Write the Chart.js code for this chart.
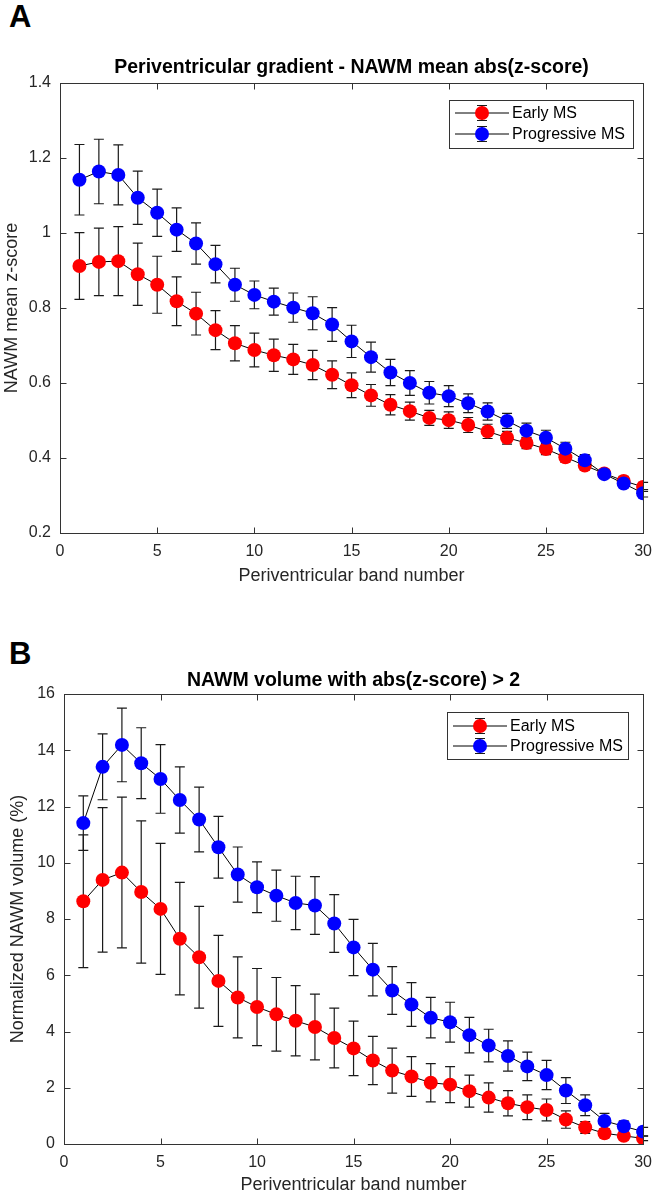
<!DOCTYPE html>
<html>
<head>
<meta charset="utf-8">
<script src="https://cdn.jsdelivr.net/npm/chart.js@4.4.0/dist/chart.umd.min.js"></script>
<style>
  html, body { margin: 0; padding: 0; background: #fff; }
  body { width: 661px; height: 1195px; position: relative; overflow: hidden; }
  .panel { position: absolute; left: 0; }
  .letter { position: absolute; left: 9px; font: bold 31px "Liberation Sans", Arial, sans-serif; line-height: 30px; color: #000; }
</style>
</head>
<body>
<div class="letter" style="top:2px">A</div>
<div class="letter" style="top:639px">B</div>
<div class="panel" style="top:0"><canvas id="chartA" width="661" height="600"></canvas></div>
<div class="panel" style="top:600px"><canvas id="chartB" width="661" height="595"></canvas></div>

<script>
// band numbers on the x axis
const bands = [1, 2, 3, 4, 5, 6, 7, 8, 9, 10, 11, 12, 13, 14, 15, 16, 17, 18, 19, 20, 21, 22, 23, 24, 25, 26, 27, 28, 29, 30];
const xTicks = [0, 5, 10, 15, 20, 25, 30];
const yTicksA = [0.2, 0.4, 0.6, 0.8, 1, 1.2, 1.4];
const yTicksB = [0, 2, 4, 6, 8, 10, 12, 14, 16];

// A: mean abs(z-score), mean and error
const earlyMeanA = [0.912, 0.923, 0.925, 0.890, 0.862, 0.818, 0.785, 0.741, 0.706, 0.688, 0.674, 0.663, 0.648, 0.622, 0.594, 0.567, 0.542, 0.525, 0.507, 0.501, 0.488, 0.471, 0.454, 0.440, 0.424, 0.402, 0.380, 0.359, 0.339, 0.323];
const earlyErrA = [0.089, 0.090, 0.092, 0.083, 0.076, 0.065, 0.057, 0.052, 0.047, 0.045, 0.043, 0.040, 0.039, 0.037, 0.033, 0.029, 0.027, 0.024, 0.020, 0.022, 0.020, 0.019, 0.017, 0.015, 0.015, 0.013, 0.012, 0.010, 0.012, 0.012];
const progMeanA = [1.142, 1.164, 1.155, 1.094, 1.054, 1.009, 0.972, 0.917, 0.862, 0.835, 0.817, 0.801, 0.786, 0.756, 0.711, 0.669, 0.628, 0.600, 0.574, 0.565, 0.546, 0.524, 0.499, 0.473, 0.454, 0.425, 0.394, 0.357, 0.332, 0.306];
const progErrA = [0.094, 0.086, 0.080, 0.071, 0.063, 0.058, 0.055, 0.050, 0.044, 0.037, 0.036, 0.039, 0.044, 0.045, 0.043, 0.040, 0.035, 0.033, 0.030, 0.028, 0.025, 0.023, 0.020, 0.020, 0.020, 0.017, 0.015, 0.010, 0.010, 0.010];

// B: volume with abs(z) > 2, in %
const earlyMeanB = [8.63, 9.39, 9.65, 8.96, 8.36, 7.30, 6.64, 5.80, 5.21, 4.87, 4.61, 4.38, 4.16, 3.77, 3.40, 2.97, 2.61, 2.40, 2.18, 2.11, 1.88, 1.65, 1.45, 1.31, 1.21, 0.87, 0.59, 0.38, 0.29, 0.20];
const earlyErrB = [2.36, 2.57, 2.68, 2.53, 2.33, 2.00, 1.81, 1.62, 1.44, 1.37, 1.31, 1.25, 1.17, 1.06, 0.97, 0.86, 0.80, 0.71, 0.68, 0.64, 0.57, 0.52, 0.45, 0.44, 0.39, 0.31, 0.21, 0.15, 0.10, 0.08];
const progMeanB = [11.41, 13.41, 14.19, 13.54, 12.98, 12.23, 11.54, 10.55, 9.58, 9.13, 8.83, 8.57, 8.48, 7.84, 6.99, 6.20, 5.46, 4.96, 4.49, 4.33, 3.87, 3.50, 3.13, 2.76, 2.45, 1.90, 1.38, 0.82, 0.63, 0.44];
const progErrB = [0.97, 1.17, 1.31, 1.26, 1.22, 1.18, 1.15, 1.10, 0.98, 0.90, 0.91, 0.95, 1.03, 1.03, 1.00, 0.93, 0.85, 0.78, 0.72, 0.71, 0.63, 0.58, 0.54, 0.51, 0.52, 0.46, 0.37, 0.27, 0.19, 0.15];

const FONT = '"Liberation Sans", Arial, sans-serif';
const frameColor = '#333';
const textColor = '#262626';
Chart.defaults.font.family = FONT;

// matlab look: error bars, boxed axes with inward ticks, title and legend
const matlabAxes = {
    id: 'matlabAxes',
    beforeDatasetsDraw(chart) {
        const { ctx, scales: { x, y } } = chart;
        ctx.save();
        ctx.strokeStyle = '#1a1a1a';
        ctx.lineWidth = 1.2;
        chart.data.datasets.forEach(ds => {
            ds.data.forEach((p, i) => {
                const px = x.getPixelForValue(p.x);
                const top = y.getPixelForValue(p.y + ds.errors[i]);
                const bot = y.getPixelForValue(p.y - ds.errors[i]);
                ctx.beginPath();
                ctx.moveTo(px, top); ctx.lineTo(px, bot);
                ctx.moveTo(px - 5, top); ctx.lineTo(px + 5, top);
                ctx.moveTo(px - 5, bot); ctx.lineTo(px + 5, bot);
                ctx.stroke();
            });
        });
        ctx.restore();
    },
    afterDraw(chart, args, opts) {
        const { ctx, chartArea: a, scales: { x, y } } = chart;
        const l = Math.round(a.left) + 0.5, r = Math.round(a.right) + 0.5;
        const t = Math.round(a.top) + 0.5, b = Math.round(a.bottom) + 0.5;
        ctx.save();
        ctx.strokeStyle = frameColor;
        ctx.lineWidth = 1;
        ctx.strokeRect(l, t, r - l, b - t);
        ctx.beginPath();
        x.ticks.forEach(tk => {
            const px = Math.round(x.getPixelForValue(tk.value)) + 0.5;
            ctx.moveTo(px, b); ctx.lineTo(px, b - 6);
            ctx.moveTo(px, t); ctx.lineTo(px, t + 6);
        });
        y.ticks.forEach(tk => {
            const py = Math.round(y.getPixelForValue(tk.value)) + 0.5;
            ctx.moveTo(l, py); ctx.lineTo(l + 6, py);
            ctx.moveTo(r, py); ctx.lineTo(r - 6, py);
        });
        ctx.stroke();

        ctx.fillStyle = '#000';
        ctx.font = 'bold 19.5px ' + FONT;
        ctx.textAlign = 'center';
        ctx.textBaseline = 'alphabetic';
        ctx.fillText(opts.title, (a.left + a.right) / 2, opts.titleY);

        // legend box
        const L = opts.legend;
        ctx.fillStyle = '#fff';
        ctx.fillRect(L.x, L.y, L.w, L.h);
        ctx.strokeStyle = frameColor;
        ctx.strokeRect(L.x + 0.5, L.y + 0.5, L.w, L.h);
        chart.data.datasets.forEach((ds, i) => {
            const cy = L.y + L.rows[i];
            const mx = L.x + 33;
            ctx.strokeStyle = '#000';
            ctx.lineWidth = 1;
            ctx.beginPath();
            ctx.moveTo(L.x + 6, cy); ctx.lineTo(L.x + 60, cy);
            ctx.stroke();
            ctx.strokeStyle = '#1a1a1a';
            ctx.lineWidth = 1.2;
            ctx.beginPath();
            ctx.moveTo(mx, cy - 7.5); ctx.lineTo(mx, cy + 7.5);
            ctx.moveTo(mx - 5, cy - 7.5); ctx.lineTo(mx + 5, cy - 7.5);
            ctx.moveTo(mx - 5, cy + 7.5); ctx.lineTo(mx + 5, cy + 7.5);
            ctx.stroke();
            ctx.fillStyle = ds.pointBackgroundColor;
            ctx.beginPath();
            ctx.arc(mx, cy, 7, 0, Math.PI * 2);
            ctx.fill();
            ctx.fillStyle = '#000';
            ctx.font = '16px ' + FONT;
            ctx.textAlign = 'left';
            ctx.textBaseline = 'middle';
            ctx.fillText(ds.label, L.x + 63, cy + 1);
        });
        ctx.restore();
    }
};

function series(label, means, errs, color, order) {
    return {
        label: label,
        data: bands.map((bd, i) => ({ x: bd, y: means[i] })),
        errors: errs,
        borderColor: '#000',
        borderWidth: 1,
        pointRadius: 7,
        pointBorderWidth: 0,
        pointBackgroundColor: color,
        pointBorderColor: color,
        tension: 0,
        order: order
    };
}

function makeChart(canvas, cfg) {
    return new Chart(canvas.getContext('2d'), {
        type: 'line',
        data: {
            datasets: [
                series('Early MS', cfg.early, cfg.earlyErr, '#ff0000', 1),
                series('Progressive MS', cfg.prog, cfg.progErr, '#0000ff', 0)
            ]
        },
        options: {
            responsive: false,
            animation: false,
            layout: { padding: cfg.padding },
            scales: {
                x: {
                    type: 'linear', min: 0, max: 30,
                    afterBuildTicks: s => { s.ticks = xTicks.map(v => ({ value: v })); },
                    afterFit: s => { s.height = cfg.xHeight; },
                    grid: { display: false, drawTicks: false },
                    border: { display: false },
                    ticks: { color: textColor, font: { size: 16 }, padding: 9, maxRotation: 0 },
                    title: { display: true, text: 'Periventricular band number', color: textColor,
                             font: { size: 18, lineHeight: 1 }, padding: { top: 0, bottom: cfg.xTitlePad } }
                },
                y: {
                    type: 'linear', min: cfg.yTicks[0], max: cfg.yTicks[cfg.yTicks.length - 1],
                    afterBuildTicks: s => { s.ticks = cfg.yTicks.map(v => ({ value: v })); },
                    afterFit: s => { s.width = cfg.yWidth; },
                    grid: { display: false, drawTicks: false },
                    border: { display: false },
                    ticks: { color: textColor, font: { size: 16 }, padding: 9,
                             callback: v => String(Number(v.toFixed(1))) },
                    title: { display: true, text: cfg.yTitle, color: textColor,
                             font: { size: 18, lineHeight: 1 }, padding: { top: cfg.yTitlePad, bottom: 0 } }
                }
            },
            plugins: {
                legend: { display: false },
                tooltip: { enabled: false },
                matlabAxes: { title: cfg.title, titleY: cfg.titleY, legend: cfg.legend }
            }
        },
        plugins: [matlabAxes]
    });
}

document.addEventListener('DOMContentLoaded', function () {
    makeChart(document.getElementById('chartA'), {
        early: earlyMeanA, earlyErr: earlyErrA, prog: progMeanA, progErr: progErrA,
        yTicks: yTicksA,
        yTitle: 'NAWM mean z-score',
        title: 'Periventricular gradient - NAWM mean abs(z-score)',
        titleY: 73,
        padding: { top: 83, right: 9, left: 0, bottom: 0 },
        xHeight: 67, yWidth: 60, xTitlePad: 15, yTitlePad: 3,
        legend: { x: 449, y: 100, w: 184, h: 48, rows: [13, 34] }
    });
    makeChart(document.getElementById('chartB'), {
        early: earlyMeanB, earlyErr: earlyErrB, prog: progMeanB, progErr: progErrB,
        yTicks: yTicksB,
        yTitle: 'Normalized NAWM volume (%)',
        title: 'NAWM volume with abs(z-score) > 2',
        titleY: 86,
        padding: { top: 94, right: 14, left: 0, bottom: 0 },
        xHeight: 51, yWidth: 64, xTitlePad: 0.5, yTitlePad: 9,
        legend: { x: 447, y: 112, w: 181, h: 47, rows: [14, 34] }
    });
});
</script>
</body>
</html>
